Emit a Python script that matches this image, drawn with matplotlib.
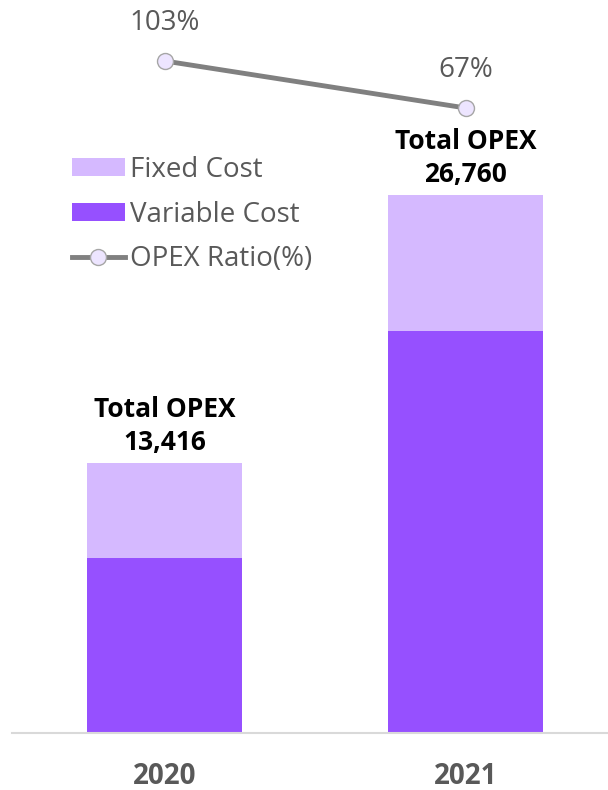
import numpy as np
import matplotlib.pyplot as plt
from matplotlib.patches import Patch
from matplotlib.lines import Line2D

plt.rcParams['font.family'] = ['Open Sans', 'DejaVu Sans']

# data
years = ['2020', '2021']
total_opex = [13416, 26760]
variable_cost = [8700, 19980]
fixed_cost = [t - v for t, v in zip(total_opex, variable_cost)]
opex_ratio = [1.03, 0.67]

fixed_color = '#D5B9FF'
variable_color = '#9650FF'
text_gray = '#595959'

fig = plt.figure(figsize=(6.08, 7.90), dpi=100)
ax = fig.add_axes([12 / 608, 57 / 790, 596 / 608, 733 / 790])

x = np.arange(len(years))
w = 0.515
ax.bar(x, variable_cost, width=w, color=variable_color, zorder=2)
ax.bar(x, fixed_cost, width=w, bottom=variable_cost, color=fixed_color, zorder=2)

ax.set_xlim(-0.507, 1.473)
ax.set_ylim(0, 36450)
for s in ['top', 'right', 'left']:
    ax.spines[s].set_visible(False)
ax.spines['bottom'].set_color('#D9D9D9')
ax.spines['bottom'].set_linewidth(1.5)
ax.set_yticks([])
ax.set_xticks(x)
ax.set_xticklabels(years, fontsize=20, fontweight='bold', color=text_gray)
ax.tick_params(axis='x', length=0, pad=21)

# total labels above bars
for xi, t in zip(x, total_opex):
    ax.annotate('Total OPEX\n{:,}'.format(t), (xi, t), xytext=(0, 5),
                textcoords='offset points', ha='center', va='bottom',
                fontsize=19, fontweight='bold', color='black', linespacing=1.3)

# ratio line on a secondary axis
ax2 = ax.twinx()
ax2.set_ylim(-4.117, 1.497)
ax2.axis('off')
ax2.plot(x, opex_ratio, color='#808080', lw=3.5, marker='o', markersize=11.5,
         markerfacecolor='#EDE5FF', markeredgecolor='#A6A6A6', markeredgewidth=1, zorder=3)
for xi, r in zip(x, opex_ratio):
    ax2.annotate('{:.0%}'.format(r), (xi, r), xytext=(0, 17), textcoords='offset points',
                 ha='center', va='bottom', fontsize=20, color=text_gray)

handles = [
    Patch(facecolor=fixed_color, label='Fixed Cost'),
    Patch(facecolor=variable_color, label='Variable Cost'),
    Line2D([0], [0], color='#808080', lw=3.5, marker='o', markersize=11.5,
           markerfacecolor='#EDE5FF', markeredgecolor='#A6A6A6', markeredgewidth=1,
           label='OPEX Ratio(%)'),
]
leg = fig.legend(handles=handles, loc='upper left', bbox_to_anchor=(72 / 608, 1 - 156 / 790),
                 frameon=False, fontsize=20, handlelength=1.9, handleheight=0.62,
                 handletextpad=0.18, labelspacing=0.6, borderpad=0, borderaxespad=0)
for t in leg.get_texts():
    t.set_color(text_gray)

fig.savefig('out.png', dpi=100)
